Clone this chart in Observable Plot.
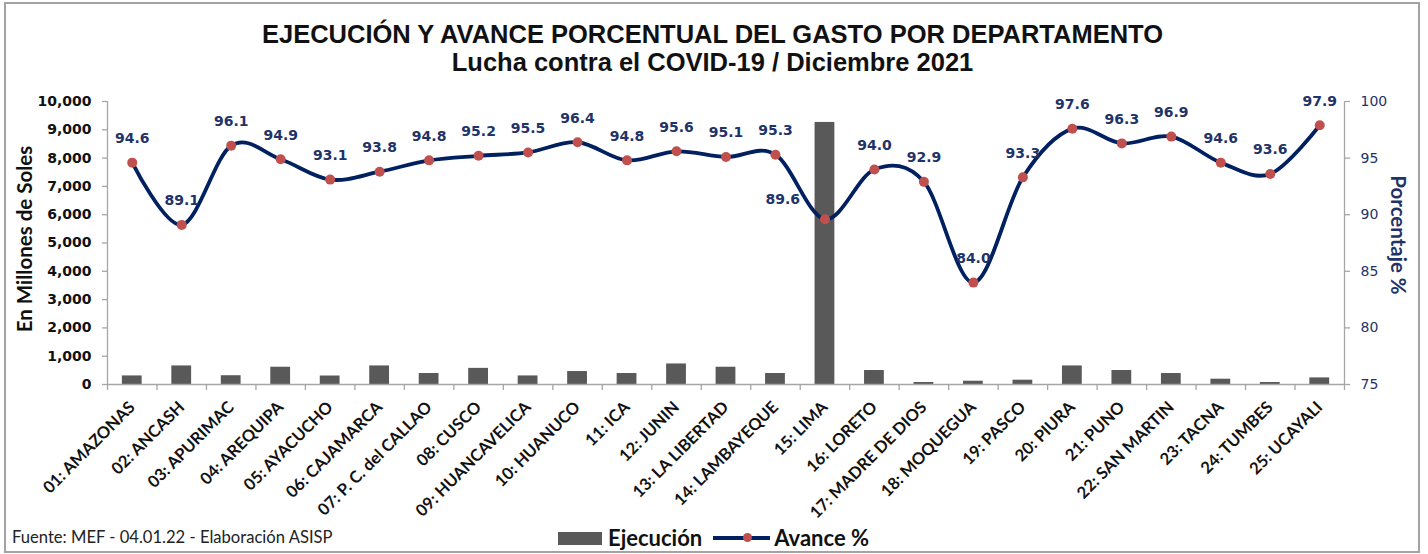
<!DOCTYPE html>
<html>
<head>
<meta charset="utf-8">
<script src="https://cdn.jsdelivr.net/npm/d3@7"></script>
<script src="https://cdn.jsdelivr.net/npm/@observablehq/plot@0.6"></script>
<style>
  html, body { margin: 0; padding: 0; background: #fff; }
  #wrap { position: relative; width: 1428px; height: 554px; overflow: hidden; background: #fff; }
  #border { position: absolute; left: 4px; top: 2px; width: 1412px; height: 547px; border: 2px solid #a3a3a3; box-sizing: content-box; }
  #chart { position: absolute; left: 0; top: 0; }
  .title { position: absolute; left: 0; width: 1425px; text-align: center; font-family: "Liberation Sans", Arial, sans-serif; font-weight: bold; font-size: 25.5px; line-height: 25px; color: #111; white-space: nowrap; }
  #t1 { top: 22px; }
  #t2 { top: 50px; }
  #caption { position: absolute; left: 12px; top: 527px; font-family: Lato, sans-serif; font-size: 16.6px; line-height: 20px; color: #222; white-space: nowrap; }
  #legend { position: absolute; left: 558px; top: 526px; height: 24px; display: flex; align-items: center; font-family: Lato, sans-serif; font-weight: bold; font-size: 22px; line-height: 24px; color: #111; white-space: nowrap; }
  .sw-bar { display: inline-block; width: 44px; height: 13px; background: #595959; margin-right: 6px; }
  .sw-line { position: relative; display: inline-block; width: 57px; height: 4px; background: #002060; margin-left: 11px; margin-right: 4px; }
  .sw-line i { position: absolute; left: 30px; top: -3px; width: 9px; height: 9px; border-radius: 50%; background: #c0504d; }
</style>
</head>
<body>
<div id="wrap">
  <div id="border"></div>
  <div id="chart"></div>
  <div class="title" id="t1">EJECUCIÓN Y AVANCE PORCENTUAL DEL GASTO POR DEPARTAMENTO</div>
  <div class="title" id="t2">Lucha contra el COVID-19 / Diciembre 2021</div>
  <div id="caption">Fuente: MEF - 04.01.22 - Elaboración ASISP</div>
  <div id="legend"><span class="sw-bar"></span>Ejecución<span class="sw-line"><i></i></span>Avance %</div>
</div>
<script>
// ---- data ----
const departments = [
  "01: AMAZONAS", "02: ANCASH", "03: APURIMAC", "04: AREQUIPA", "05: AYACUCHO",
  "06: CAJAMARCA", "07: P. C. del CALLAO", "08: CUSCO", "09: HUANCAVELICA", "10: HUANUCO",
  "11: ICA", "12: JUNIN", "13: LA LIBERTAD", "14: LAMBAYEQUE", "15: LIMA",
  "16: LORETO", "17: MADRE DE DIOS", "18: MOQUEGUA", "19: PASCO", "20: PIURA",
  "21: PUNO", "22: SAN MARTIN", "23: TACNA", "24: TUMBES", "25: UCAYALI"
];
// Ejecución (millones de soles)
const ejecucion = [303, 656, 310, 610, 300, 656, 388, 570, 303, 458,
                   388, 726, 610, 388, 9260, 494, 70, 116, 152, 656,
                   494, 388, 187, 70, 233];
// Avance %
const avance = [94.6, 89.1, 96.1, 94.9, 93.1, 93.8, 94.8, 95.2, 95.5, 96.4,
                94.8, 95.6, 95.1, 95.3, 89.6, 94.0, 92.9, 84.0, 93.3, 97.6,
                96.3, 96.9, 94.6, 93.6, 97.9];
const leftTicks = [0, 1000, 2000, 3000, 4000, 5000, 6000, 7000, 8000, 9000, 10000];
const rightTicks = [75, 80, 85, 90, 95, 100];
// departments whose value label sits to the left of the point
const labelsLeft = ["15: LIMA"];

// ---- scales helpers ----
const yMax = 10000, pctMin = 75, pctMax = 100;
const pctToY = p => (p - pctMin) * yMax / (pctMax - pctMin);
const yToPct = v => pctMin + v * (pctMax - pctMin) / yMax;

const rows = departments.map((d, i) => ({dep: d, i, ejec: ejecucion[i], av: avance[i]}));
const n = departments.length;

const navy = "#002060";
const labelNavy = "#1f3368";
const axisGray = "#a6a6a6";
const labelFont = "'DejaVu Sans', Verdana, sans-serif";

const chart = Plot.plot({
  width: 1428,
  height: 554,
  marginLeft: 107,
  marginRight: 84,
  marginTop: 101,
  marginBottom: 170,
  style: {fontFamily: "Lato, sans-serif", background: "transparent", overflow: "visible"},
  x: {domain: [0, n], axis: null, label: null},
  y: {domain: [0, yMax], axis: null, label: null},
  marks: [
    // bars
    Plot.rectY(rows, {x1: d => d.i + 0.3, x2: d => d.i + 0.7, y: "ejec", fill: "#595959"}),
    // axis lines
    Plot.ruleY([0], {stroke: axisGray, strokeWidth: 1.3}),
    Plot.ruleX([0], {stroke: axisGray, strokeWidth: 1.3}),
    Plot.ruleX([n], {stroke: axisGray, strokeWidth: 1.3}),
    // category boundary ticks
    Plot.axisX(d3.range(n + 1), {anchor: "bottom", label: null, tickSize: 6, tickFormat: () => "", stroke: axisGray, strokeWidth: 1.3}),
    // category labels
    Plot.axisX(rows.map(d => d.i + 0.5), {
      anchor: "bottom", label: null, tickSize: 0, tickPadding: 20, tickRotate: -45,
      tickFormat: v => departments[Math.floor(v)],
      fontSize: 16.5, fontWeight: "bold", fill: "#111", fontFamily: "Lato, sans-serif"
    }),
    // left axis
    Plot.axisY(leftTicks, {
      anchor: "left", label: null, tickSize: 5, tickPadding: 11, tickFormat: d3.format(","),
      stroke: axisGray, strokeWidth: 1.3, fill: "#111",
      fontSize: 14, fontWeight: "bold", fontFamily: labelFont
    }),
    // right axis (percent)
    Plot.axisY(rightTicks.map(pctToY), {
      anchor: "right", label: null, tickSize: 5, tickPadding: 11, tickFormat: v => String(Math.round(yToPct(v))),
      stroke: axisGray, strokeWidth: 1.3, fill: labelNavy,
      fontSize: 14, fontFamily: labelFont
    }),
    // axis titles
    Plot.text(["En Millones de Soles"], {frameAnchor: "left", textAnchor: "middle", rotate: -90, dx: -82, dy: -4, fontSize: 20.5, fontWeight: "bold", fill: "#111", fontFamily: "Lato, sans-serif"}),
    Plot.text(["Porcentaje %"], {frameAnchor: "right", textAnchor: "middle", rotate: 90, dx: 53, dy: -8, fontSize: 20.5, fontWeight: "bold", fill: labelNavy, fontFamily: "Lato, sans-serif"}),
    // line
    Plot.line(rows, {x: d => d.i + 0.5, y: d => pctToY(d.av), stroke: navy, strokeWidth: 3.8, curve: "cardinal"}),
    Plot.dot(rows, {x: d => d.i + 0.5, y: d => pctToY(d.av), r: 5, fill: "#c0504d", stroke: "none"}),
    // value labels (above)
    Plot.text(rows.filter(d => !labelsLeft.includes(d.dep)), {x: d => d.i + 0.5, y: d => pctToY(d.av), text: d => d.av.toFixed(1), dy: -24,
      fill: labelNavy, fontSize: 14, fontWeight: "bold", fontFamily: labelFont}),
    // value labels (left)
    Plot.text(rows.filter(d => labelsLeft.includes(d.dep)), {x: d => d.i + 0.5, y: d => pctToY(d.av), text: d => d.av.toFixed(1), dx: -25, dy: -20, textAnchor: "end",
      fill: labelNavy, fontSize: 14, fontWeight: "bold", fontFamily: labelFont})
  ]
});
document.getElementById("chart").appendChild(chart);
</script>
</body>
</html>
